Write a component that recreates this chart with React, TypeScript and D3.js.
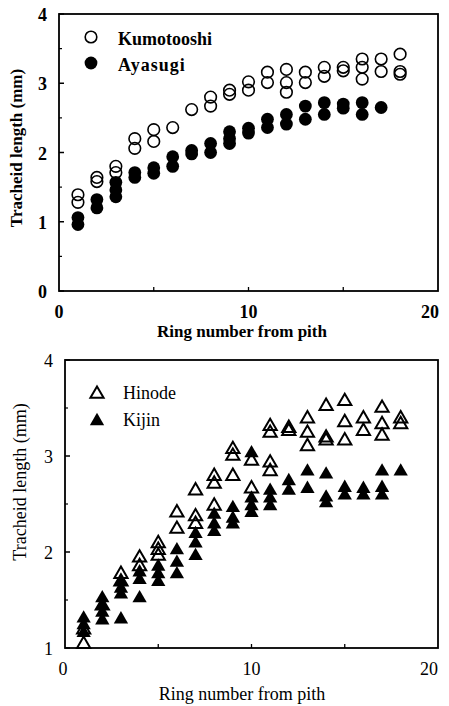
import React from "react";
import * as d3 from "d3";

// ---- Data (ring number, tracheid length mm) ----
const kumotooshi: [number, number][] = [
  [1, 1.39], [1, 1.28], [2, 1.64], [2, 1.58], [3, 1.8], [3, 1.71],
  [4, 2.2], [4, 2.06], [5, 2.33], [5, 2.16], [6, 2.36], [7, 2.62],
  [8, 2.8], [8, 2.67], [9, 2.9], [9, 2.84], [10, 3.02], [10, 2.9],
  [11, 3.16], [11, 3.01], [12, 3.2], [12, 3.01], [12, 2.87],
  [13, 3.16], [13, 3.01], [14, 3.23], [14, 3.1], [15, 3.23], [15, 3.18],
  [16, 3.35], [16, 3.23], [16, 3.06], [17, 3.35], [17, 3.17],
  [18, 3.42], [18, 3.17], [18, 3.13],
];
const ayasugi: [number, number][] = [
  [1, 1.06], [1, 0.96], [2, 1.32], [2, 1.2], [3, 1.57], [3, 1.46], [3, 1.36],
  [4, 1.71], [4, 1.64], [5, 1.78], [5, 1.7], [6, 1.94], [6, 1.8],
  [7, 2.03], [7, 1.98], [8, 2.13], [8, 2.0], [9, 2.3], [9, 2.2], [9, 2.13],
  [10, 2.35], [10, 2.28], [11, 2.48], [11, 2.36], [12, 2.55], [12, 2.41],
  [13, 2.67], [13, 2.48], [14, 2.72], [14, 2.55], [15, 2.7], [15, 2.64],
  [16, 2.72], [16, 2.55], [17, 2.65],
];
const hinode: [number, number][] = [
  [1, 1.05], [1, 1.2], [2, 1.45], [3, 1.78], [3, 1.7], [4, 1.95], [4, 1.86],
  [5, 2.1], [5, 2.03], [5, 1.97], [6, 2.42], [6, 2.25], [7, 2.65], [7, 2.38], [7, 2.3],
  [8, 2.8], [8, 2.72], [8, 2.49], [9, 3.08], [9, 3.01], [9, 2.8],
  [10, 2.96], [10, 2.67], [11, 3.32], [11, 3.25], [11, 2.94], [11, 2.85],
  [12, 3.3], [12, 3.27], [13, 3.4], [13, 3.25], [13, 3.11],
  [14, 3.53], [14, 3.2], [14, 3.17], [15, 3.58], [15, 3.36], [15, 3.17],
  [16, 3.4], [16, 3.27], [17, 3.51], [17, 3.34], [17, 3.22], [18, 3.4], [18, 3.34],
];
const kijin: [number, number][] = [
  [1, 1.32], [1, 1.25], [1, 1.17], [2, 1.53], [2, 1.45], [2, 1.38], [2, 1.3],
  [3, 1.7], [3, 1.63], [3, 1.57], [3, 1.31], [4, 1.8], [4, 1.72], [4, 1.53],
  [5, 1.86], [5, 1.78], [5, 1.7], [6, 2.03], [6, 1.9], [6, 1.78],
  [7, 2.2], [7, 2.1], [7, 1.97], [8, 2.4], [8, 2.3], [8, 2.22],
  [9, 2.47], [9, 2.36], [9, 2.3], [10, 3.04], [10, 2.57], [10, 2.49], [10, 2.42],
  [11, 2.65], [11, 2.57], [11, 2.49], [12, 2.75], [12, 2.65],
  [13, 2.85], [13, 2.67], [14, 2.82], [14, 2.58], [14, 2.52],
  [15, 2.68], [15, 2.6], [16, 2.67], [16, 2.6], [17, 2.85], [17, 2.68], [17, 2.6],
  [18, 2.85],
];
const topYTicks = [0, 1, 2, 3, 4];
const bottomYTicks = [1, 2, 3, 4];
const xTickLabels = [0, 10, 20];
const xMinorTicks = [5, 10, 15];
const topYMinor = [0.5, 1.5, 2.5, 3.5];
const bottomYMinor = [1.5, 2.5, 3.5];

const FONT = "'Liberation Serif', 'Times New Roman', serif";

const tri = (s: number) => `M0,${-s * 0.55}L${s * 0.55},${s * 0.4}L${-s * 0.55},${s * 0.4}Z`;

export default function App() {
  // top panel
  const xT = d3.scaleLinear().domain([0, 20]).range([59, 438]);
  const yT = d3.scaleLinear().domain([0, 4]).range([291, 14]);
  // bottom panel
  const xB = d3.scaleLinear().domain([0, 20]).range([65, 438]);
  const yB = d3.scaleLinear().domain([1, 4]).range([648, 360]);

  return (
    <svg width={449} height={706} style={{ position: "absolute", left: 0, top: 0, background: "#fff" }}
      fontFamily={FONT}>
      <rect x={0} y={0} width={449} height={706} fill="#fff" />
      {/* ---------- TOP PANEL ---------- */}
      <g>
        <rect x={xT(0)} y={yT(4)} width={xT(20) - xT(0)} height={yT(0) - yT(4)} fill="none" stroke="#000" strokeWidth={1.8} />
        {topYTicks.map((t) => (
          <g key={"ty" + t}>
            <line x1={xT(0)} x2={xT(0) + 5} y1={yT(t)} y2={yT(t)} stroke="#000" strokeWidth={1.5} />
            <text x={47} y={yT(t) + 7} textAnchor="end" fontSize={18} fontWeight="bold">{t}</text>
          </g>
        ))}
        {topYMinor.map((t) => (
          <line key={"tym" + t} x1={xT(0)} x2={xT(0) + 3} y1={yT(t)} y2={yT(t)} stroke="#000" strokeWidth={1.2} />
        ))}
        {xMinorTicks.map((t) => (
          <line key={"txm" + t} x1={xT(t)} x2={xT(t)} y1={yT(0)} y2={yT(0) - 4} stroke="#000" strokeWidth={1.3} />
        ))}
        {xTickLabels.map((t) => (
          <text key={"tx" + t} x={xT(t) - (t === 20 ? 8 : 0)} y={318} textAnchor="middle" fontSize={18} fontWeight="bold">{t}</text>
        ))}
        <text x={242} y={337} textAnchor="middle" fontSize={17} fontWeight="bold">Ring number from pith</text>
        <text transform={`translate(22,${148}) rotate(-90)`} textAnchor="middle" fontSize={17} fontWeight="bold">Tracheid length (mm)</text>
        {kumotooshi.map(([x, y], i) => (
          <circle key={"k" + i} cx={xT(x)} cy={yT(y)} r={5.8} fill="none" stroke="#000" strokeWidth={1.6} />
        ))}
        {ayasugi.map(([x, y], i) => (
          <circle key={"a" + i} cx={xT(x)} cy={yT(y)} r={6.4} fill="#000" />
        ))}
        {/* legend */}
        <circle cx={91} cy={37} r={5.8} fill="none" stroke="#000" strokeWidth={1.6} />
        <text x={118} y={45} fontSize={18} fontWeight="bold">Kumotooshi</text>
        <circle cx={91} cy={63} r={6.4} fill="#000" />
        <text x={118} y={71} fontSize={18} fontWeight="bold" letterSpacing={1}>Ayasugi</text>
      </g>

      {/* ---------- BOTTOM PANEL ---------- */}
      <g>
        <rect x={xB(0)} y={yB(4)} width={xB(20) - xB(0)} height={yB(1) - yB(4)} fill="none" stroke="#000" strokeWidth={1.8} />
        {bottomYTicks.map((t) => (
          <g key={"by" + t}>
            <line x1={xB(0)} x2={xB(0) + 5} y1={yB(t)} y2={yB(t)} stroke="#000" strokeWidth={1.5} />
            <text x={53} y={yB(t) + 7} textAnchor="end" fontSize={18}>{t}</text>
          </g>
        ))}
        {bottomYMinor.map((t) => (
          <line key={"bym" + t} x1={xB(0)} x2={xB(0) + 3} y1={yB(t)} y2={yB(t)} stroke="#000" strokeWidth={1.2} />
        ))}
        {xMinorTicks.map((t) => (
          <line key={"bxm" + t} x1={xB(t)} x2={xB(t)} y1={yB(1)} y2={yB(1) - 4} stroke="#000" strokeWidth={1.3} />
        ))}
        {xTickLabels.map((t) => (
          <text key={"bx" + t} x={xB(t) - (t === 20 ? 9 : t === 0 ? 2 : 0)} y={675} textAnchor="middle" fontSize={18}>{t}</text>
        ))}
        <text x={242} y={700} textAnchor="middle" fontSize={18}>Ring number from pith</text>
        <text transform={`translate(26,${482}) rotate(-90)`} textAnchor="middle" fontSize={18}>Tracheid length (mm)</text>
        {hinode.map(([x, y], i) => (
          <path key={"h" + i} d={tri(12)} transform={`translate(${xB(x)},${yB(y)})`} fill="none" stroke="#000" strokeWidth={2} strokeLinejoin="miter" />
        ))}
        {kijin.map(([x, y], i) => (
          <path key={"kj" + i} d={tri(13)} transform={`translate(${xB(x)},${yB(y)})`} fill="#000" />
        ))}
        {/* legend */}
        <path d={tri(12)} transform="translate(97,393)" fill="none" stroke="#000" strokeWidth={2} />
        <text x={123} y={399} fontSize={18}>Hinode</text>
        <path d={tri(13)} transform="translate(97,420)" fill="#000" />
        <text x={123} y={426} fontSize={18}>Kijin</text>
      </g>
    </svg>
  );
}
